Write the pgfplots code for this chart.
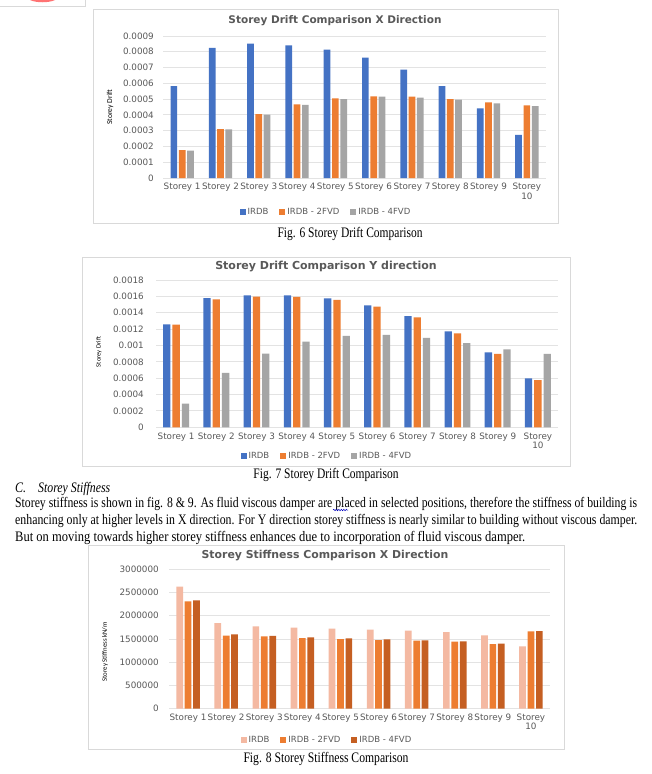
\documentclass[border=0pt]{standalone}
\usepackage{pgfplots}
\pgfplotsset{compat=1.18}
\usepackage{graphicx}
\usetikzlibrary{decorations.pathmorphing}
\usepackage{fontspec}
\setmainfont{Liberation Serif}
\newfontfamily\chartfont{DejaVu Sans}
\newfontfamily\narrowfont{Carlito}

\definecolor{cBlue}{HTML}{4472C4}
\definecolor{cOrange}{HTML}{ED7D31}
\definecolor{cGray}{HTML}{A5A5A5}
\definecolor{cPeach}{HTML}{F4B9A2}
\definecolor{cDark}{HTML}{C55F22}
\definecolor{txtgray}{HTML}{595959}
\definecolor{gridgray}{HTML}{E3E3E3}
\definecolor{framegray}{HTML}{D9D9D9}

\pgfplotsset{
  storey/.style={
    scale only axis,
    anchor=south west,
    xmin=-0.5, xmax=9.5, ymin=0,
    enlargelimits=false,
    axis line style={draw=none},
    major tick length=0pt,
    ymajorgrids,
    grid style={gridgray, line width=0.9pt},
    xtick={0,1,2,3,4,5,6,7,8,9},
    xticklabels={Storey 1,Storey 2,Storey 3,Storey 4,Storey 5,Storey 6,Storey 7,Storey 8,Storey 9,{Storey\\10}},
    xticklabel style={font=\chartfont\fontsize{8.8}{9.3}\selectfont, text=txtgray, inner sep=0pt, yshift=-5pt, align=center},
    yticklabel style={font=\chartfont\fontsize{8.8}{10}\selectfont, text=txtgray, inner sep=0pt},
    scaled y ticks=false,
    legend columns=3,
    legend style={draw=none, fill=none, anchor=center, font=\chartfont\fontsize{8.5}{10}\selectfont, text=txtgray, /tikz/every even column/.append style={column sep=9pt}},
  },
  sqlegend/.style={every axis plot/.append style={legend image code/.code={\fill[##1] (0pt,-3pt) rectangle (6pt,3pt);}}},
}

\begin{document}
\begin{tikzpicture}
\path[use as bounding box, fill=white] (0pt,0pt) rectangle (651pt,-774pt);

% top-left fragment of previous figure
\draw[framegray, line width=0.6pt] (0pt,-6pt) -- (85pt,-6pt) -- (85pt,0pt);
\fill[red!55!white] (30pt,0pt) .. controls (36pt,-3pt) and (49pt,-3pt) .. (55pt,0pt) -- cycle;

% ---------- frames ----------
\draw[framegray, line width=0.8pt] (93pt,-9pt) rectangle (558pt,-223pt);
\draw[framegray, line width=0.8pt] (82pt,-257pt) rectangle (570pt,-466pt);
\draw[framegray, line width=0.8pt] (88pt,-545pt) rectangle (564pt,-749pt);

% ---------- Chart 1 ----------
\begin{axis}[storey, at={(163pt,-178pt)}, width=383pt, height=142pt, ymax=0.0009,
  ytick={0,0.0001,0.0002,0.0003,0.0004,0.0005,0.0006,0.0007,0.0008,0.0009},
  yticklabels={0,0.0001,0.0002,0.0003,0.0004,0.0005,0.0006,0.0007,0.0008,0.0009},
  yticklabel style={xshift=-9pt},
  ybar=1.6pt, bar width=6.7pt, sqlegend,
  legend style={at={(0.4256,-0.2394)}}]
\addplot[fill=cBlue, draw=none] coordinates {(0,0.000582) (1,0.000825) (2,0.000851) (3,0.000841) (4,0.000814) (5,0.000763) (6,0.000687) (7,0.000582) (8,0.000442) (9,0.000273)};
\addplot[fill=cOrange, draw=none] coordinates {(0,0.000177) (1,0.000310) (2,0.000405) (3,0.000467) (4,0.000505) (5,0.000518) (6,0.000515) (7,0.000500) (8,0.000479) (9,0.000460)};
\addplot[fill=cGray, draw=none] coordinates {(0,0.000174) (1,0.000308) (2,0.000401) (3,0.000464) (4,0.000500) (5,0.000515) (6,0.000510) (7,0.000497) (8,0.000473) (9,0.000456)};
\legend{IRDB, IRDB - 2FVD, IRDB - 4FVD}
\end{axis}
\node[font=\chartfont\bfseries\fontsize{10.5}{12}\selectfont, text=txtgray] at (335pt,-20.7pt) {Storey Drift Comparison X Direction};
\node[rotate=90, font=\narrowfont\fontsize{7.6}{8}\selectfont, text=black] at (110pt,-107pt) {Storey Drift};
\node[anchor=base, inner sep=0pt, font=\fontsize{14.5}{17}\selectfont] at (350pt,-237.5pt) {\resizebox{145pt}{\height}{Fig. 6 Storey Drift Comparison}};

% ---------- Chart 2 ----------
\begin{axis}[storey, at={(156pt,-427.3pt)}, width=402pt, height=147.3pt, ymax=0.0018,
  ytick={0,0.0002,0.0004,0.0006,0.0008,0.001,0.0012,0.0014,0.0016,0.0018},
  yticklabels={0,0.0002,0.0004,0.0006,0.0008,0.001,0.0012,0.0014,0.0016,0.0018},
  yticklabel style={xshift=-12pt},
  ybar=2pt, bar width=7.3pt, sqlegend,
  legend style={at={(0.425,-0.195)}}]
\addplot[fill=cBlue, draw=none] coordinates {(0,0.001259) (1,0.001580) (2,0.001613) (3,0.001613) (4,0.001576) (5,0.001490) (6,0.001360) (7,0.001173) (8,0.000916) (9,0.000599)};
\addplot[fill=cOrange, draw=none] coordinates {(0,0.001255) (1,0.001564) (2,0.001597) (3,0.001593) (4,0.001556) (5,0.001475) (6,0.001344) (7,0.001149) (8,0.000896) (9,0.000578)};
\addplot[fill=cGray, draw=none] coordinates {(0,0.000289) (1,0.000664) (2,0.000900) (3,0.001047) (4,0.001116) (5,0.001128) (6,0.001092) (7,0.001030) (8,0.000953) (9,0.000896)};
\legend{IRDB, IRDB - 2FVD, IRDB - 4FVD}
\end{axis}
\node[font=\chartfont\bfseries\fontsize{11}{12}\selectfont, text=txtgray] at (326pt,-267pt) {Storey Drift Comparison Y direction};
\node[rotate=90, font=\narrowfont\fontsize{6.5}{8}\selectfont, text=black] at (99pt,-352pt) {Storey Drift};
\node[anchor=base, inner sep=0pt, font=\fontsize{14.5}{17}\selectfont] at (326pt,-478.5pt) {\resizebox{145pt}{\height}{Fig. 7 Storey Drift Comparison}};

% ---------- Text ----------
\node[anchor=base west, inner sep=0pt, font=\itshape\fontsize{14.5}{17}\selectfont] at (15pt,-492.5pt) {\resizebox{11pt}{\height}{C.}};
\node[anchor=base west, inner sep=0pt, font=\itshape\fontsize{14.5}{17}\selectfont] at (38pt,-492.5pt) {\resizebox{72pt}{\height}{Storey Stiffness}};
\node[anchor=base west, inner sep=0pt, font=\fontsize{14.5}{17}\selectfont] at (15pt,-507.5pt) {\resizebox{622pt}{\height}{Storey stiffness is shown in fig. 8 \& 9. As fluid viscous damper are placed in selected positions, therefore the stiffness of building is}};
\draw[blue!75!black, line width=0.5pt, decorate, decoration={snake, amplitude=0.7pt, segment length=2.5pt}] (333pt,-510pt) -- (348pt,-510pt);
\node[anchor=base west, inner sep=0pt, font=\fontsize{14.5}{17}\selectfont] at (15pt,-524.5pt) {\resizebox{622pt}{\height}{enhancing only at higher levels in X direction. For Y direction storey stiffness is nearly similar to building without viscous damper.}};
\node[anchor=base west, inner sep=0pt, font=\fontsize{14.5}{17}\selectfont] at (15pt,-541.5pt) {\resizebox{510pt}{\height}{But on moving towards higher storey stiffness enhances due to incorporation of fluid viscous damper.}};

% ---------- Chart 3 ----------
\begin{axis}[storey, at={(169pt,-708.7pt)}, width=381pt, height=139.4pt, ymax=3000000,
  ytick={0,500000,1000000,1500000,2000000,2500000,3000000},
  yticklabels={0,500000,1000000,1500000,2000000,2500000,3000000},
  yticklabel style={xshift=-10pt},
  ybar=1.7pt, bar width=6.7pt, sqlegend,
  legend style={at={(0.4147,-0.2224)}}]
\addplot[fill=cPeach, draw=none] coordinates {(0,2627000) (1,1844000) (2,1773000) (3,1744000) (4,1722000) (5,1701000) (6,1679000) (7,1650000) (8,1579000) (9,1342000)};
\addplot[fill=cOrange, draw=none] coordinates {(0,2311000) (1,1572000) (2,1557000) (3,1521000) (4,1500000) (5,1478000) (6,1464000) (7,1442000) (8,1392000) (9,1665000)};
\addplot[fill=cDark, draw=none] coordinates {(0,2332000) (1,1600000) (2,1565000) (3,1536000) (4,1514000) (5,1493000) (6,1471000) (7,1450000) (8,1400000) (9,1672000)};
\legend{IRDB, IRDB - 2FVD, IRDB - 4FVD}
\end{axis}
\node[font=\chartfont\bfseries\fontsize{10.9}{12}\selectfont, text=txtgray] at (325pt,-556pt) {Storey Stiffness Comparison X Direction};
\node[rotate=90, font=\narrowfont\fontsize{6.8}{8}\selectfont, text=black] at (105pt,-651.7pt) {Storey Stiffness kN/m};
\node[anchor=base, inner sep=0pt, font=\fontsize{14.5}{17}\selectfont] at (326pt,-762.5pt) {\resizebox{165pt}{\height}{Fig. 8 Storey Stiffness Comparison}};
\end{tikzpicture}
\end{document}
